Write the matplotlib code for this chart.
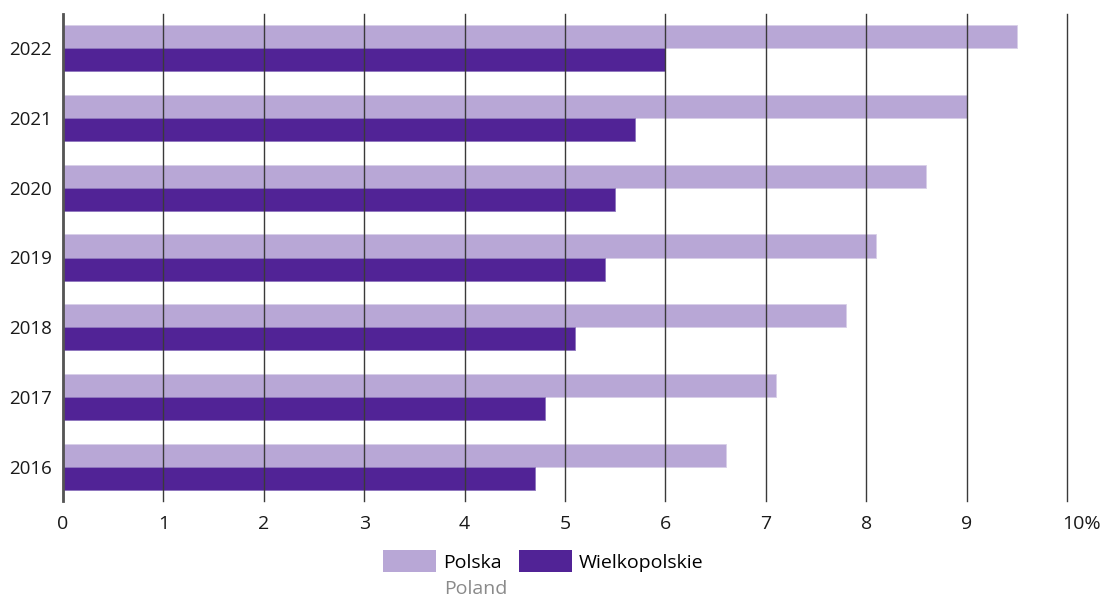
import matplotlib
matplotlib.use("Agg")
import matplotlib.pyplot as plt
import numpy as np
from matplotlib.transforms import ScaledTranslation

years = ["2016", "2017", "2018", "2019", "2020", "2021", "2022"]
polska = [6.6, 7.1, 7.8, 8.1, 8.6, 9.0, 9.5]
wielkopolskie = [4.7, 4.8, 5.1, 5.4, 5.5, 5.7, 6.0]
xticks = [0, 1, 2, 3, 4, 5, 6, 7, 8, 9, 10]
xticklabels = ["0", "1", "2", "3", "4", "5", "6", "7", "8", "9", "10%"]
series_names = ["Polska", "Wielkopolskie"]
subtitle = "Poland"

light = "#B8A7D6"
dark = "#512396"
grid_c = "#3a3a3a"

plt.rcParams['font.family'] = ['Open Sans', 'DejaVu Sans']

W, H = 1104, 597
fig = plt.figure(figsize=(W / 100, H / 100), dpi=100)
ax = fig.add_axes([63 / W, 1 - 501 / H, (1067 - 63) / W, (501 - 14) / H])

y = np.arange(len(years))
h = 0.33
b1 = ax.barh(y + h / 2, polska, height=h, color=light, edgecolor="#d8cfe8", linewidth=0.6, zorder=2)
b2 = ax.barh(y - h / 2, wielkopolskie, height=h, color=dark, edgecolor="#8d75bd", linewidth=0.6, zorder=2)

ax.set_xlim(0, 10)
ax.set_ylim(-0.49, 6.49)
ax.set_yticks(y)
ax.set_yticklabels(years)
ax.set_xticks(xticks)
ax.set_xticklabels(xticklabels)

for s in ["top", "right", "bottom"]:
    ax.spines[s].set_visible(False)
ax.spines["left"].set_color("#555555")
ax.spines["left"].set_linewidth(2)
ax.spines["left"].set_zorder(4)

ax.xaxis.grid(True, color=grid_c, linewidth=1)
ax.set_axisbelow(False)
for gl in ax.get_xgridlines():
    gl.set_zorder(3)
    gl.set_clip_on(False)
ax.tick_params(axis="x", length=0, labelsize=14, colors="#1a1a1a", pad=10)
ax.tick_params(axis="y", length=0, labelsize=13.5, colors="#1a1a1a", pad=8)

# shift "10%" label
lbl = ax.get_xticklabels()[-1]
lbl.set_horizontalalignment("left")
lbl.set_transform(lbl.get_transform() + ScaledTranslation(-5 / 100, 0, fig.dpi_scale_trans))

leg = fig.legend([b1, b2], series_names, loc="upper left",
                 bbox_to_anchor=(383 / W, 1 - 550 / H), ncol=2, frameon=False,
                 fontsize=14, handlelength=2.73, handleheight=1.39,
                 handletextpad=0.38, columnspacing=0.85, borderpad=0, borderaxespad=0)
for p in leg.get_patches():
    p.set_edgecolor("none")
fig.text(444 / W, 1 - 594 / H, subtitle, fontsize=14, color="#8a8a8a", va="baseline", ha="left")

fig.savefig("out.png", dpi=100)
